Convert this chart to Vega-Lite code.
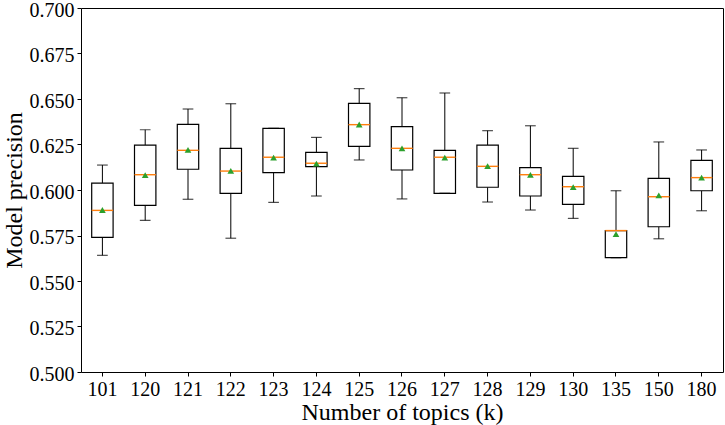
{
  "$schema": "https://vega.github.io/schema/vega-lite/v6.json",
  "autosize": "none",
  "width": 642,
  "height": 364,
  "padding": {"left": 81, "top": 8, "right": 2, "bottom": 53},
  "background": "white",
  "config": {
    "view": {"stroke": "black", "strokeWidth": 1},
    "font": "Liberation Serif",
    "axis": {
      "labelFont": "Liberation Serif",
      "titleFont": "Liberation Serif",
      "labelColor": "black",
      "titleColor": "black",
      "domainColor": "black",
      "tickColor": "black",
      "titleFontWeight": "normal",
      "grid": false
    }
  },
  "data": {
    "values": [
      {"k": "101", "lo": 0.5641, "q1": 0.5740, "med": 0.5888, "q3": 0.6038, "hi": 0.6137, "mean": 0.5890},
      {"k": "120", "lo": 0.5833, "q1": 0.5916, "med": 0.6084, "q3": 0.6247, "hi": 0.6331, "mean": 0.6082},
      {"k": "121", "lo": 0.5949, "q1": 0.6114, "med": 0.6218, "q3": 0.6361, "hi": 0.6445, "mean": 0.6220},
      {"k": "122", "lo": 0.5735, "q1": 0.5982, "med": 0.6104, "q3": 0.6229, "hi": 0.6474, "mean": 0.6105},
      {"k": "123", "lo": 0.5932, "q1": 0.6095, "med": 0.6180, "q3": 0.6339, "hi": 0.6339, "mean": 0.6178},
      {"k": "124", "lo": 0.5967, "q1": 0.6128, "med": 0.6147, "q3": 0.6207, "hi": 0.6289, "mean": 0.6145},
      {"k": "125", "lo": 0.6165, "q1": 0.6240, "med": 0.6359, "q3": 0.6476, "hi": 0.6557, "mean": 0.6360},
      {"k": "126", "lo": 0.5951, "q1": 0.6110, "med": 0.6229, "q3": 0.6348, "hi": 0.6507, "mean": 0.6229},
      {"k": "127", "lo": 0.5982, "q1": 0.5982, "med": 0.6180, "q3": 0.6218, "hi": 0.6533, "mean": 0.6178},
      {"k": "128", "lo": 0.5934, "q1": 0.6015, "med": 0.6130, "q3": 0.6247, "hi": 0.6326, "mean": 0.6131},
      {"k": "129", "lo": 0.5890, "q1": 0.5967, "med": 0.6084, "q3": 0.6123, "hi": 0.6353, "mean": 0.6083},
      {"k": "130", "lo": 0.5844, "q1": 0.5921, "med": 0.6018, "q3": 0.6075, "hi": 0.6229, "mean": 0.6016},
      {"k": "135", "lo": 0.5628, "q1": 0.5628, "med": 0.5777, "q3": 0.5777, "hi": 0.5996, "mean": 0.5758},
      {"k": "150", "lo": 0.5732, "q1": 0.5798, "med": 0.5963, "q3": 0.6064, "hi": 0.6264, "mean": 0.5970},
      {"k": "180", "lo": 0.5886, "q1": 0.5996, "med": 0.6068, "q3": 0.6163, "hi": 0.6220, "mean": 0.6068}
    ]
  },
  "encoding": {
    "x": {
      "field": "k",
      "type": "ordinal",
      "sort": null,
      "scale": {"paddingInner": 0, "paddingOuter": 0},
      "axis": {
        "title": "Number of topics (k)",
        "labelAngle": 0,
        "labelFontSize": 20,
        "titleFontSize": 24,
        "tickSize": 4,
        "labelPadding": 3,
        "titlePadding": 1,
        "domain": false
      }
    }
  },
  "layer": [
    {
      "mark": {"type": "rule", "color": "black", "strokeWidth": 1},
      "encoding": {
        "y": {
          "field": "lo",
          "type": "quantitative",
          "scale": {"domain": [0.5, 0.7], "nice": false, "zero": false},
          "axis": {
            "title": "Model precision",
            "values": [0.5, 0.525, 0.55, 0.575, 0.6, 0.625, 0.65, 0.675, 0.7],
            "format": ".3f",
            "labelFontSize": 20,
            "titleFontSize": 24,
            "tickSize": 4,
            "labelPadding": 3,
            "labelOffset": 2,
            "titlePadding": 3,
            "domain": false
          }
        },
        "y2": {"field": "q1"}
      }
    },
    {
      "mark": {"type": "rule", "color": "black", "strokeWidth": 1},
      "encoding": {
        "y": {"field": "q3", "type": "quantitative"},
        "y2": {"field": "hi"}
      }
    },
    {
      "mark": {"type": "bar", "fill": "white", "stroke": "black", "strokeWidth": 1.2, "width": 21.4},
      "encoding": {
        "y": {"field": "q1", "type": "quantitative"},
        "y2": {"field": "q3"}
      }
    },
    {
      "mark": {"type": "tick", "color": "black", "size": 10.7, "thickness": 1.2},
      "encoding": {
        "y": {"field": "lo", "type": "quantitative"}
      }
    },
    {
      "mark": {"type": "tick", "color": "black", "size": 10.7, "thickness": 1.2},
      "encoding": {
        "y": {"field": "hi", "type": "quantitative"}
      }
    },
    {
      "mark": {"type": "tick", "color": "#ff7f0e", "size": 21.4, "thickness": 1.4, "opacity": 1},
      "encoding": {
        "y": {"field": "med", "type": "quantitative"}
      }
    },
    {
      "mark": {"type": "point", "shape": "triangle-up", "filled": true, "color": "#2ca02c", "size": 45, "opacity": 1},
      "encoding": {
        "y": {"field": "mean", "type": "quantitative"}
      }
    }
  ]
}
